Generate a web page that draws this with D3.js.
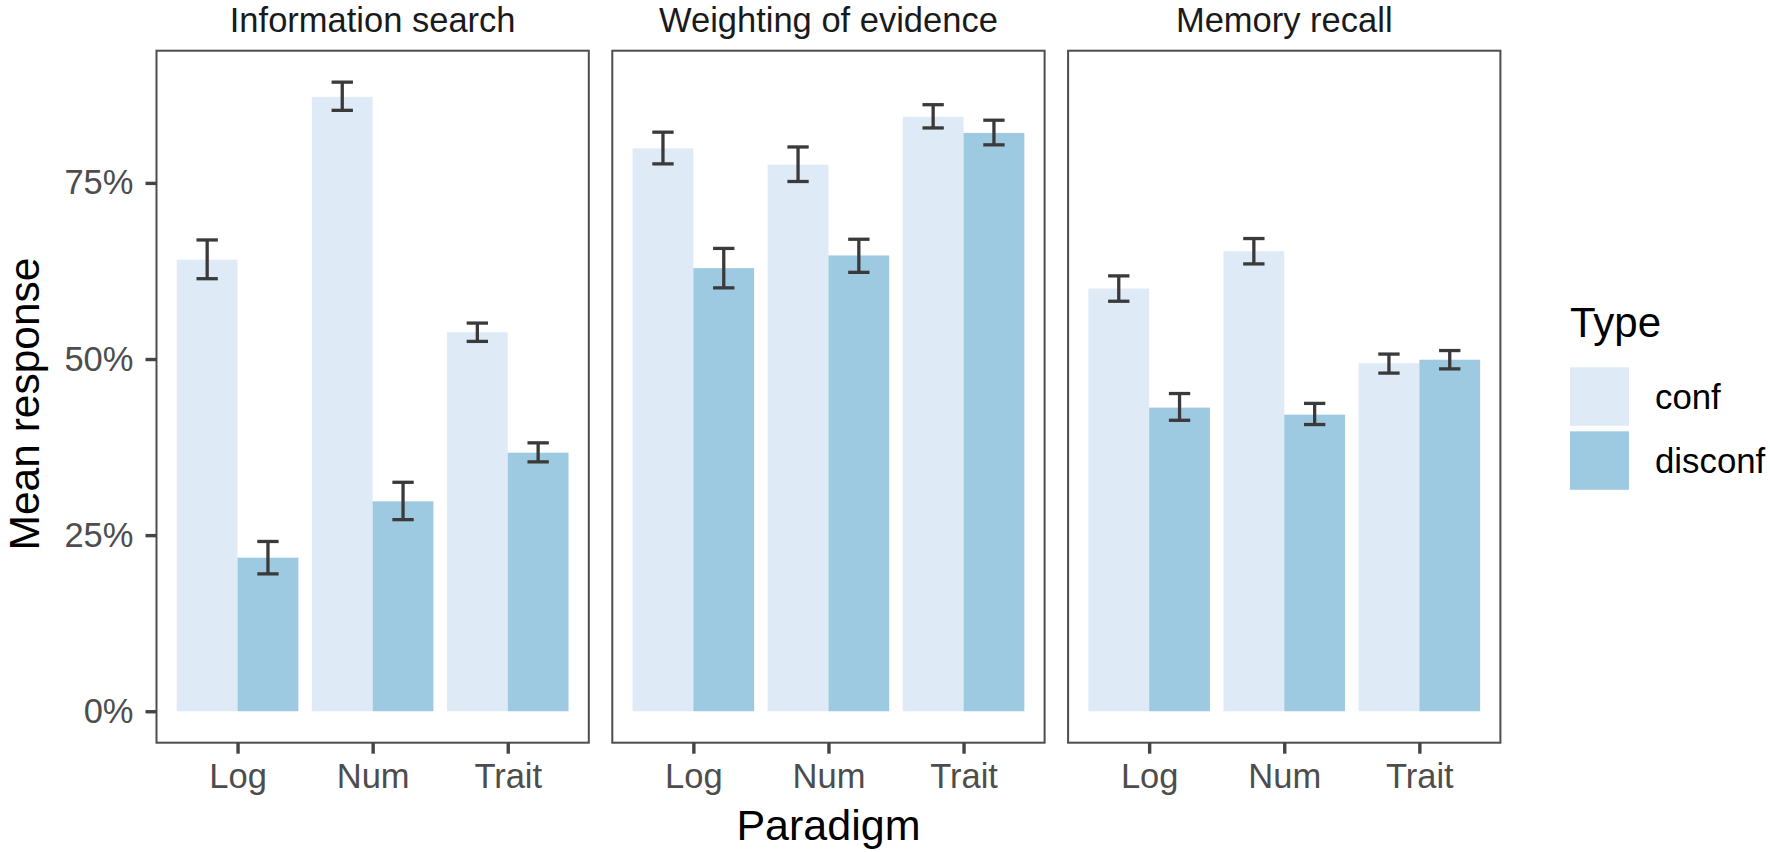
<!DOCTYPE html>
<html><head><meta charset="utf-8">
<script src="https://cdn.jsdelivr.net/npm/d3@7"></script>
<style>
body{margin:0;background:#fff}
svg{display:block}
text{font-family:"Liberation Sans",Arial,Helvetica,sans-serif}
</style>
</head><body>
<svg id="chart" width="1770" height="852"></svg>
<script>
// ---- data ----
const facets = ["Information search", "Weighting of evidence", "Memory recall"];
const paradigms = ["Log", "Num", "Trait"];
const types = ["conf", "disconf"];
const typeColors = ["#deebf7", "#9ecae1"];
const yTicks = [0, 0.25, 0.5, 0.75];

const confMean = [[0.641, 0.872, 0.538], [0.799, 0.776, 0.844], [0.600, 0.653, 0.494]];
const confLow  = [[0.614, 0.853, 0.525], [0.777, 0.752, 0.828], [0.582, 0.635, 0.480]];
const confHigh = [[0.669, 0.893, 0.551], [0.822, 0.801, 0.861], [0.618, 0.671, 0.507]];
const discMean = [[0.218, 0.298, 0.367], [0.629, 0.647, 0.821], [0.431, 0.421, 0.499]];
const discLow  = [[0.195, 0.272, 0.354], [0.601, 0.623, 0.804], [0.413, 0.407, 0.486]];
const discHigh = [[0.241, 0.325, 0.381], [0.657, 0.670, 0.839], [0.451, 0.437, 0.512]];

// ---- layout ----
const svg = d3.select("#chart");
const panelLeft0 = 156.5, panelW = 432.3, panelGap = 23.5;
const panelTop = 50.7, panelBottom = 742.7;
const tickFont = 34.5, titleFont = 43, yTitleFont = 42.5, stripFont = 34.5, legendTitleFont = 42, legendFont = 34.8;

const dataMax = d3.max([...confHigh.flat(), ...discHigh.flat()]);
const pad = dataMax * 0.05;
const y = d3.scaleLinear().domain([0 - pad, dataMax + pad]).range([panelBottom, panelTop]);

const rows = [];
facets.forEach((f, fi) => {
  paradigms.forEach((p, pi) => {
    rows.push({facet: fi, paradigm: p, type: 0, mean: confMean[fi][pi], lo: confLow[fi][pi], hi: confHigh[fi][pi]});
    rows.push({facet: fi, paradigm: p, type: 1, mean: discMean[fi][pi], lo: discLow[fi][pi], hi: discHigh[fi][pi]});
  });
});

facets.forEach((fname, fi) => {
  const x0 = panelLeft0 + fi * (panelW + panelGap);
  const step = panelW / 3.2;
  const x = d3.scalePoint().domain(paradigms).range([x0 + 0.6 * step, x0 + panelW - 0.6 * step]);
  const groupW = 0.9 * step;
  const sub = d3.scaleBand().domain(types.map((t, i) => i)).range([-groupW / 2, groupW / 2]).padding(0);
  const g = svg.append("g");
  const data = rows.filter(r => r.facet === fi);

  // bars
  g.selectAll("rect.bar").data(data).join("rect")
    .attr("class", "bar")
    .attr("x", d => x(d.paradigm) + sub(d.type))
    .attr("width", sub.bandwidth())
    .attr("y", d => y(d.mean))
    .attr("height", d => y(0) - y(d.mean))
    .attr("fill", d => typeColors[d.type]);

  // error bars
  const capW = 0.158 * step;
  const cx = d => x(d.paradigm) + sub(d.type) + sub.bandwidth() / 2;
  const eb = g.selectAll("g.eb").data(data).join("g").attr("class", "eb")
    .attr("stroke", "#3a3a3a").attr("stroke-width", 3.3).attr("fill", "none");
  eb.append("line")
    .attr("x1", cx).attr("x2", cx)
    .attr("y1", d => y(d.lo)).attr("y2", d => y(d.hi));
  eb.append("line")
    .attr("x1", d => cx(d) - capW / 2).attr("x2", d => cx(d) + capW / 2)
    .attr("y1", d => y(d.lo)).attr("y2", d => y(d.lo));
  eb.append("line")
    .attr("x1", d => cx(d) - capW / 2).attr("x2", d => cx(d) + capW / 2)
    .attr("y1", d => y(d.hi)).attr("y2", d => y(d.hi));

  // panel border
  g.append("rect").attr("x", x0).attr("y", panelTop)
    .attr("width", panelW).attr("height", panelBottom - panelTop)
    .attr("fill", "none").attr("stroke", "#4d4d4d").attr("stroke-width", 2);

  // strip title
  svg.append("text").attr("x", x0 + panelW / 2).attr("y", 31.5)
    .attr("text-anchor", "middle").attr("font-size", stripFont).attr("fill", "#1a1a1a")
    .text(fname);

  // x axis
  const xa = svg.append("g").attr("transform", `translate(0,${panelBottom})`)
    .call(d3.axisBottom(x).tickSize(11).tickPadding(10));
  xa.select(".domain").remove();
  xa.selectAll(".tick line").attr("stroke", "#444").attr("stroke-width", 3.4);
  xa.selectAll(".tick text").attr("font-size", tickFont).attr("fill", "#4d4d4d")
    .attr("font-family", "'Liberation Sans',Arial,sans-serif");

  if (fi === 0) {
    const ya = svg.append("g").attr("transform", `translate(${x0},0)`)
      .call(d3.axisLeft(y).tickValues(yTicks).tickFormat(d3.format(".0%")).tickSize(11).tickPadding(12));
    ya.select(".domain").remove();
    ya.selectAll(".tick line").attr("stroke", "#444").attr("stroke-width", 3.4);
    ya.selectAll(".tick text").attr("font-size", tickFont).attr("fill", "#4d4d4d")
      .attr("font-family", "'Liberation Sans',Arial,sans-serif");
  }
});

// axis titles
svg.append("text").attr("x", (panelLeft0 + panelLeft0 + 3 * panelW + 2 * panelGap) / 2).attr("y", 839.5)
  .attr("text-anchor", "middle").attr("font-size", titleFont).attr("fill", "#000").text("Paradigm");
svg.append("text").attr("transform", `translate(39,404) rotate(-90)`)
  .attr("text-anchor", "middle").attr("font-size", yTitleFont).attr("fill", "#000").text("Mean response");

// legend
const lg = svg.append("g");
lg.append("text").attr("x", 1570).attr("y", 336.5).attr("font-size", legendTitleFont).attr("fill", "#000").text("Type");
const keyTop = [367.3, 431.3];
types.forEach((t, i) => {
  lg.append("rect").attr("x", 1570).attr("y", keyTop[i]).attr("width", 59).attr("height", 58.5)
    .attr("fill", typeColors[i]);
  lg.append("text").attr("x", 1655).attr("y", keyTop[i] + 29.25).attr("dy", "0.36em")
    .attr("font-size", legendFont).attr("fill", "#000").text(t);
});
</script>
</body></html>
